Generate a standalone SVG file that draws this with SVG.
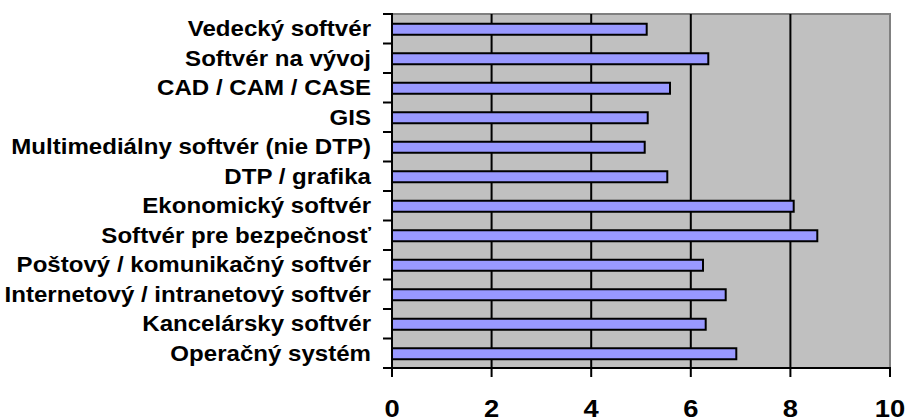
<svg xmlns="http://www.w3.org/2000/svg" width="905" height="420" viewBox="0 0 905 420">
<style>
.lbl{font-family:"Liberation Sans",Arial,sans-serif;font-weight:bold;font-size:21.5px;fill:#000;text-anchor:end}
.xl{font-family:"Liberation Sans",Arial,sans-serif;font-weight:bold;font-size:24px;fill:#000;text-anchor:middle}
.bar{fill:#9999FF;stroke:#000;stroke-width:2}
.grid{stroke:#000;stroke-width:2}
.ax{stroke:#000;stroke-width:2;fill:none}
</style>
<rect width="905" height="420" fill="#fff"/>
<g id="plot">
<rect x="392" y="14" width="498" height="354" fill="#C0C0C0"/>
<polyline points="392,14 890,14 890,368" fill="none" stroke="#808080" stroke-width="2"/>
<g class="grid">
<line x1="491.6" y1="14" x2="491.6" y2="368"/>
<line x1="591.2" y1="14" x2="591.2" y2="368"/>
<line x1="690.8" y1="14" x2="690.8" y2="368"/>
<line x1="790.4" y1="14" x2="790.4" y2="368"/>
</g>
</g>
<g id="bars">
<rect class="bar" x="392" y="23.75" width="254.7" height="11"/>
<rect class="bar" x="392" y="53.25" width="316.3" height="11"/>
<rect class="bar" x="392" y="82.75" width="278" height="11"/>
<rect class="bar" x="392" y="112.25" width="255.7" height="11"/>
<rect class="bar" x="392" y="141.75" width="252.7" height="11"/>
<rect class="bar" x="392" y="171.25" width="275.3" height="11"/>
<rect class="bar" x="392" y="200.75" width="401.7" height="11"/>
<rect class="bar" x="392" y="230.25" width="425.3" height="11"/>
<rect class="bar" x="392" y="259.75" width="311" height="11"/>
<rect class="bar" x="392" y="289.25" width="333.7" height="11"/>
<rect class="bar" x="392" y="318.75" width="313.7" height="11"/>
<rect class="bar" x="392" y="348.25" width="344.3" height="11"/>
</g>
<g id="axes" class="ax">
<line x1="392" y1="13" x2="392" y2="369"/>
<line x1="391" y1="368" x2="891" y2="368"/>
<path d="M392,368V377M491.6,368V377M591.2,368V377M690.8,368V377M790.4,368V377M890,368V377"/>
<path d="M383,14H392M383,43.5H392M383,73H392M383,102.5H392M383,132H392M383,161.5H392M383,191H392M383,220.5H392M383,250H392M383,279.5H392M383,309H392M383,338.5H392M383,368H392"/>
</g>
<g id="ylabels" transform="translate(371,0) scale(1.12,1)">
<text class="lbl" x="0" y="36.3">Vedecký softvér</text>
<text class="lbl" x="0" y="65.8">Softvér na vývoj</text>
<text class="lbl" x="0" y="95.3">CAD / CAM / CASE</text>
<text class="lbl" x="0" y="124.8">GIS</text>
<text class="lbl" x="0" y="154.3">Multimediálny softvér (nie DTP)</text>
<text class="lbl" x="0" y="183.8">DTP / grafika</text>
<text class="lbl" x="0" y="213.3">Ekonomický softvér</text>
<text class="lbl" x="0" y="242.8">Softvér pre bezpečnosť</text>
<text class="lbl" x="0" y="272.3">Poštový / komunikačný softvér</text>
<text class="lbl" x="0" y="301.8">Internetový / intranetový softvér</text>
<text class="lbl" x="0" y="331.3">Kancelársky softvér</text>
<text class="lbl" x="0" y="360.8">Operačný systém</text>
</g>
<g id="xlabels">
<text class="xl" transform="translate(392,417) scale(1.14,1)">0</text>
<text class="xl" transform="translate(491.6,417) scale(1.14,1)">2</text>
<text class="xl" transform="translate(591.2,417) scale(1.14,1)">4</text>
<text class="xl" transform="translate(690.8,417) scale(1.14,1)">6</text>
<text class="xl" transform="translate(790.4,417) scale(1.14,1)">8</text>
<text class="xl" transform="translate(890,417) scale(1.14,1)">10</text>
</g>
</svg>
